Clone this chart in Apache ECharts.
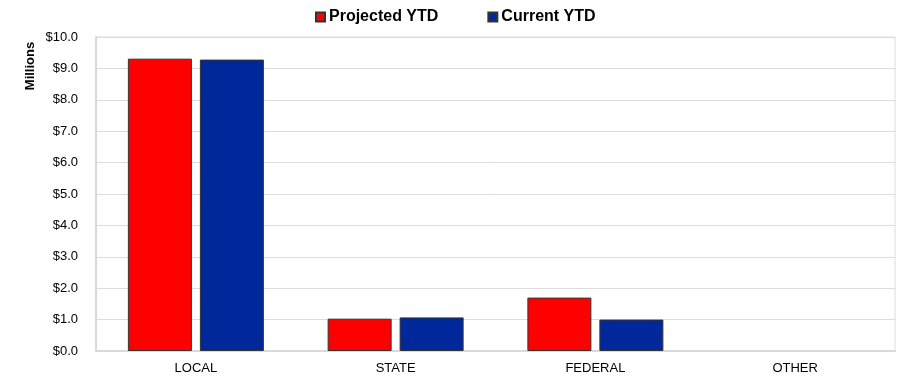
<!DOCTYPE html>
<html><head><meta charset="utf-8">
<script src="https://cdn.jsdelivr.net/npm/echarts@6/dist/echarts.min.js"></script>
<style>html,body{margin:0;padding:0;background:#fff}#c{width:902px;height:376px}</style>
</head><body><div id="c"></div>
<script>
const categories = ['LOCAL', 'STATE', 'FEDERAL', 'OTHER'];
const projectedYTD = [9.31, 1.03, 1.70, 0];
const currentYTD = [9.28, 1.07, 1.00, 0];
const seriesNames = ['Projected YTD', 'Current YTD'];

const FONT = 'Liberation Sans, Arial, sans-serif';
const toItems = arr => arr.map(v => v === 0 ? { value: v, itemStyle: { borderWidth: 0, opacity: 0 } } : v);

const chart = echarts.init(document.getElementById('c'));
chart.setOption({
  animation: false,
  backgroundColor: '#fff',
  textStyle: { fontFamily: FONT },
  legend: {
    top: 4, left: 310, itemGap: 49, itemWidth: 9, itemHeight: 9, icon: 'rect',
    textStyle: { fontWeight: 'bold', fontSize: 16, color: '#000', padding: [0, 0, 0, -1] },
    data: seriesNames
  },
  grid: { left: 96, right: 7, top: 37, bottom: 25, show: true, borderColor: '#dcdcdc', borderWidth: 1 },
  xAxis: {
    type: 'category', data: categories,
    axisLine: { lineStyle: { color: '#d9d9d9', width: 2 } },
    axisTick: { show: false },
    axisLabel: { color: '#000', fontSize: 13, margin: 11 }
  },
  yAxis: {
    type: 'value', min: 0, max: 10, interval: 1,
    axisLine: { show: true, lineStyle: { color: '#d9d9d9', width: 2 } },
    splitLine: { lineStyle: { color: '#dcdcdc' } },
    axisLabel: { color: '#000', fontSize: 13, margin: 18, formatter: v => '$' + v.toFixed(1) }
  },
  graphic: [{
    type: 'text', x: 30, y: 66, rotation: Math.PI / 2,
    style: { text: 'Millions', fontWeight: 'bold', fontSize: 13, fill: '#000', align: 'center', verticalAlign: 'middle', fontFamily: FONT }
  }],
  series: [
    { name: seriesNames[0], type: 'bar', data: toItems(projectedYTD), barWidth: 64, barGap: '12.5%',
      itemStyle: { color: '#ff0000', borderColor: '#333', borderWidth: 1 } },
    { name: seriesNames[1], type: 'bar', data: toItems(currentYTD), barWidth: 64,
      itemStyle: { color: '#00289a', borderColor: '#333', borderWidth: 1 } }
  ]
});
</script></body></html>
